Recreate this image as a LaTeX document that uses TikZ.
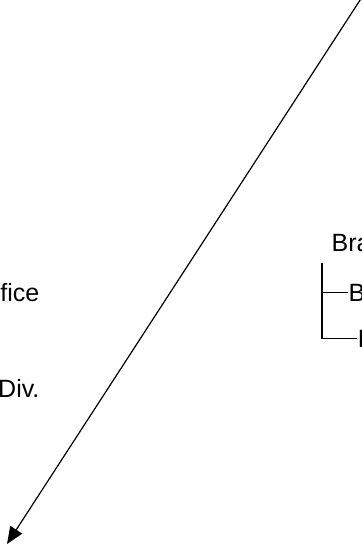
\documentclass[tikz,border=0pt]{standalone}
\usepackage{fontspec}
\setmainfont{Liberation Sans}
\usetikzlibrary{positioning, arrows.meta}

\begin{document}
\begin{tikzpicture}[x=1bp, y=-1bp, line width=1.2bp, >={Triangle[length=17bp, width=14bp]},
    every node/.style={inner sep=0pt, font=\fontsize{25bp}{29bp}\selectfont},
    tree/.style={line width=1.2bp}]
    \useasboundingbox (0,0) rectangle (361,549);
    \clip (0,0) rectangle (361,549);

    % left labels
    \node (office) [anchor=base east] at (40,301) {fice};
    \node (div) [anchor=base east] at (40,397) {Div.};

    % branch tree
    \node (branch) [anchor=base west] at (331,251) {Bra};
    \node (leafb) [anchor=base west] at (348,301) {B};
    \node (leafi) [anchor=base west] at (357,347) {I};
    \coordinate (trunk) at (322,263);
    \draw[tree] (trunk) |- (leafi.west);
    \draw[tree] (trunk |- leafb.west) -- (leafb.west);

    % long arrow
    \coordinate (start) at (364,-6);
    \coordinate (tip) at (7,544);
    \draw[->] (start) -- (tip);
\end{tikzpicture}
\end{document}
